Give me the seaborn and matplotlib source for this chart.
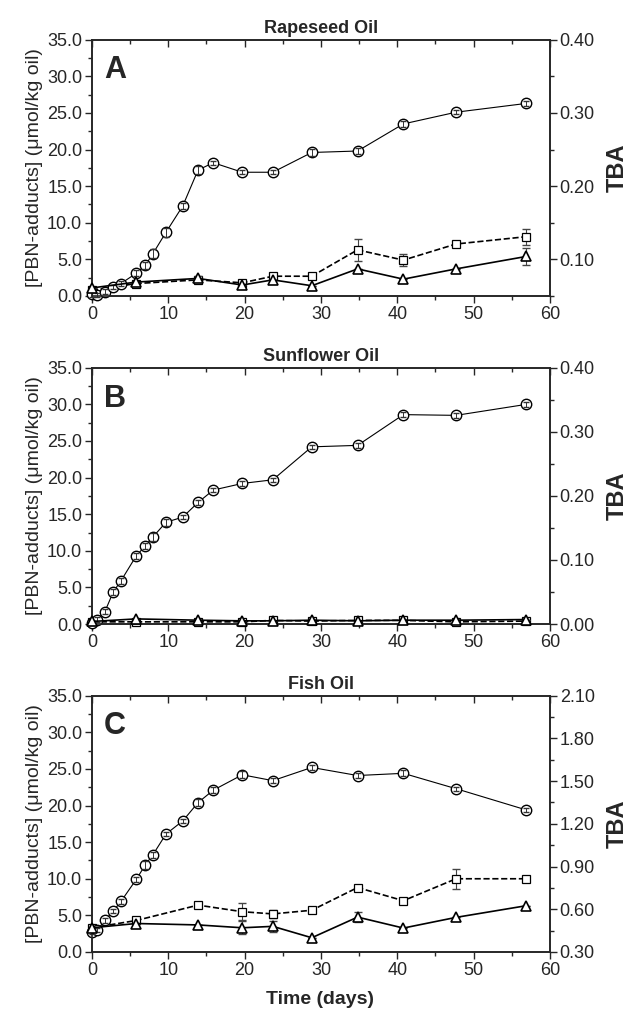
import numpy as np
import matplotlib
matplotlib.use("Agg")
import matplotlib.pyplot as plt
import seaborn as sns
from matplotlib.ticker import MultipleLocator, FormatStrFormatter

sns.set_style("ticks")
plt.rcParams['font.family'] = ['Liberation Sans', 'DejaVu Sans']
plt.rcParams['axes.linewidth'] = 1.2

# 取样时间（天）
t_full = [0, 0.7, 1.7, 2.8, 3.8, 5.8, 7.0, 8.0, 9.7, 11.9, 13.9, 15.9,
          19.7, 23.7, 28.8, 34.8, 40.8, 47.7, 56.9]
t_sub = [0, 5.8, 13.9, 19.7, 23.7, 28.8, 34.8, 40.8, 47.7, 56.9]

# A: Rapeseed Oil
rape_pbn = [0.3, 0.1, 0.6, 1.2, 1.7, 3.1, 4.2, 5.8, 8.7, 12.3, 17.2, 18.2,
            16.9, 16.9, 19.6, 19.8, 23.5, 25.1, 26.3]
rape_pbn_err = [0.5, 0.3, 0.3, 0.3, 0.4, 0.4, 0.5, 0.6, 0.6, 0.4, 0.5, 0.3,
                0.3, 0.3, 0.5, 0.4, 0.4, 0.3, 0.3]
rape_sq = [0.8, 1.7, 2.2, 1.8, 2.7, 2.7, 6.3, 4.9, 7.1, 8.1]
rape_sq_err = [0, 0, 0, 0.3, 0, 0.3, 1.5, 0.8, 0, 1.1]
rape_tba = [0.061, 0.069, 0.074, 0.065, 0.072, 0.064, 0.087, 0.073, 0.087, 0.104]
rape_tba_err = [0, 0, 0.003, 0, 0, 0, 0, 0, 0, 0.012]

# B: Sunflower Oil
sun_pbn = [0.1, 0.6, 1.7, 4.4, 5.9, 9.3, 10.7, 11.9, 13.9, 14.6, 16.6, 18.3,
           19.2, 19.7, 24.2, 24.4, 28.6, 28.5, 30.0]
sun_pbn_err = [0.3, 0.3, 0.3, 0.4, 0.4, 0.4, 0.4, 0.5, 0.5, 0.3, 0.4, 0.3,
               0.3, 0.3, 0.3, 0.3, 0.3, 0.3, 0.3]
sun_sq = [0.3, 0.3, 0.3, 0.3, 0.5, 0.4, 0.5, 0.5, 0.3, 0.4]
sun_sq_err = [0] * 10
sun_tba = [0.004, 0.008, 0.006, 0.005, 0.005, 0.006, 0.005, 0.006, 0.006, 0.007]
sun_tba_err = [0] * 10

# C: Fish Oil
fish_pbn = [2.7, 3.0, 4.3, 5.6, 6.9, 9.9, 11.9, 13.3, 16.1, 17.9, 20.4, 22.1,
            24.2, 23.4, 25.2, 24.1, 24.4, 22.3, 19.4]
fish_pbn_err = [0.3, 0.3, 0.3, 0.3, 0.3, 0.4, 0.5, 0.4, 0.3, 0.3, 0.5, 0.4,
                0.5, 0.3, 0.4, 0.3, 0.4, 0.3, 0.3]
fish_sq = [3.3, 4.3, 6.4, 5.5, 5.2, 5.7, 8.8, 7.0, 10.0, 10.0]
fish_sq_err = [0, 0, 0, 1.2, 0.5, 0, 0, 0, 1.4, 0]
fish_tba = [0.47, 0.50, 0.49, 0.47, 0.48, 0.40, 0.545, 0.468, 0.543, 0.625]
fish_tba_err = [0, 0, 0, 0.045, 0.04, 0, 0.035, 0, 0, 0]

titles = ['Rapeseed Oil', 'Sunflower Oil', 'Fish Oil']
letters = ['A', 'B', 'C']
tba_lims = [(0.05, 0.40), (0.0, 0.40), (0.30, 2.10)]
tba_major = [0.10, 0.10, 0.30]

panels = [
    (rape_pbn, rape_pbn_err, rape_sq, rape_sq_err, rape_tba, rape_tba_err),
    (sun_pbn, sun_pbn_err, sun_sq, sun_sq_err, sun_tba, sun_tba_err),
    (fish_pbn, fish_pbn_err, fish_sq, fish_sq_err, fish_tba, fish_tba_err),
]

fig = plt.figure(figsize=(6.34, 10.21), dpi=100)
bottoms = [0.7101, 0.3888, 0.0676]

for i, (pbn, pbn_err, sq, sq_err, tba, tba_err) in enumerate(panels):
    ax = fig.add_axes([0.145, bottoms[i], 0.7224, 0.2510])
    ax2 = ax.twinx()

    # PBN 加合物（圆圈）
    sns.lineplot(x=t_full, y=pbn, ax=ax, color='black', linewidth=0.8,
                 marker='o', markersize=7.5, markerfacecolor='white',
                 markeredgecolor='black', markeredgewidth=1.0, clip_on=False,
                 zorder=5)
    ax.errorbar(t_full, pbn, yerr=pbn_err, fmt='none', ecolor='#333333',
                elinewidth=0.7, capsize=2.5, zorder=6, clip_on=False)
    # 方块虚线
    ax.errorbar(t_sub, sq, yerr=sq_err, fmt='none', ecolor='#444444',
                elinewidth=0.8, capsize=3, zorder=3)
    sns.lineplot(x=t_sub, y=sq, ax=ax, color='black', linewidth=1.2,
                 linestyle='--', marker='s', markersize=5.5,
                 markerfacecolor='white', markeredgecolor='black',
                 markeredgewidth=0.9, clip_on=False, zorder=4)
    # TBA（三角）
    ax2.errorbar(t_sub, tba, yerr=tba_err, fmt='none', ecolor='#444444',
                 elinewidth=0.8, capsize=3, zorder=3)
    sns.lineplot(x=t_sub, y=tba, ax=ax2, color='black', linewidth=1.2,
                 marker='^', markersize=7, markerfacecolor='white',
                 markeredgecolor='black', markeredgewidth=1.2, clip_on=False,
                 zorder=4)

    ax.set_xlim(0, 60)
    ax.set_ylim(0, 35)
    ax2.set_ylim(*tba_lims[i])

    ax.xaxis.set_major_locator(MultipleLocator(10))
    ax.xaxis.set_minor_locator(MultipleLocator(5))
    ax.yaxis.set_major_locator(MultipleLocator(5))
    ax.yaxis.set_minor_locator(MultipleLocator(2.5))
    ax.yaxis.set_major_formatter(FormatStrFormatter('%.1f'))
    ax2.yaxis.set_major_locator(MultipleLocator(tba_major[i]))
    ax2.yaxis.set_minor_locator(MultipleLocator(tba_major[i] / 2))
    ax2.yaxis.set_major_formatter(FormatStrFormatter('%.2f'))

    ax.tick_params(axis='x', which='both', direction='out', top=True,
                   labelsize=13, pad=2)
    ax.tick_params(axis='x', which='major', length=5, width=1.0)
    ax.tick_params(axis='x', which='minor', length=3, width=1.0)
    ax.tick_params(axis='y', which='major', direction='out', length=5,
                   width=1.0, labelsize=13, pad=2)
    ax.tick_params(axis='y', which='minor', direction='out', length=3, width=1.0)
    ax2.tick_params(axis='y', which='major', direction='out', length=5,
                    width=1.0, labelsize=13, pad=2)
    ax2.tick_params(axis='y', which='minor', direction='out', length=3, width=1.0)
    # 顶部刻度朝内
    for tk in ax.xaxis.get_major_ticks() + ax.xaxis.get_minor_ticks():
        tk.tick2line.set_marker(matplotlib.lines.TICKDOWN)

    for sp in ax2.spines.values():
        sp.set_linewidth(1.2)

    ax.set_xlabel('')
    ax.set_ylabel('[PBN-adducts] (\u03bcmol/kg oil)', fontsize=14, labelpad=3)
    ax2.set_ylabel('TBA', fontsize=17, fontweight='bold', labelpad=8)
    ax.set_title(titles[i], fontsize=13, fontweight='bold', pad=5)
    ax.text(0.05, 0.88, letters[i], transform=ax.transAxes, fontsize=22,
            fontweight='bold', ha='center', va='center')

fig.text(0.505, 0.021, 'Time (days)', ha='center', va='center', fontsize=14,
         fontweight='bold')

plt.savefig('out.png', dpi=100)
plt.close()
